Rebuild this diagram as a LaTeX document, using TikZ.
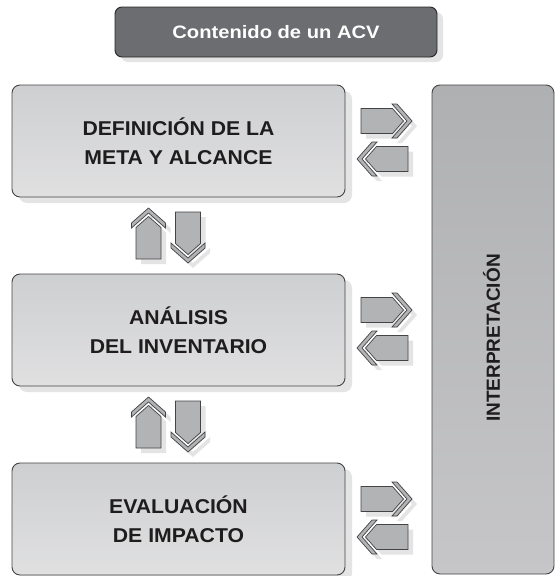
\documentclass[tikz,border=0pt]{standalone}
\usepackage{fontspec}
\setmainfont{Liberation Sans}
\usetikzlibrary{shadows}
\definecolor{titlegray}{RGB}{108,109,112}
\definecolor{boxtop}{RGB}{206,207,209}
\definecolor{boxbot}{RGB}{224,224,225}
\definecolor{paneltop}{RGB}{175,176,178}
\definecolor{panelbot}{RGB}{198,198,200}
\definecolor{arrowtop}{RGB}{200,201,203}
\definecolor{arrowfill}{RGB}{178,179,181}
\definecolor{edgec}{RGB}{68,68,70}
\definecolor{shadec}{RGB}{228,228,229}
\definecolor{inkc}{RGB}{30,28,29}

% block arrow pointing along +x, tip at origin
\newcommand\arrband{(-15,-17)--(0,0)--(-15,17)--(-20,17)--(-5,0)--(-20,-17)--cycle}
\newcommand\arrbody{(-8.5,0)--(-19.5,12.5)--(-51,12.5)--(-51,-12.5)--(-19.5,-12.5)--cycle}
\newcommand\blockarrow[3]{%
  \begin{scope}[shift={(#1+5,#2+5)}, rotate=#3]
    \fill[shadec] \arrband; \fill[shadec] \arrbody;
  \end{scope}
  \begin{scope}[shift={(#1,#2)}, rotate=#3]
    \filldraw[arrowpart] \arrband;
    \filldraw[arrowpart] \arrbody;
  \end{scope}}

\begin{document}
\begin{tikzpicture}[x=1pt,y=-1pt,
  arrowpart/.style={fill=arrowfill, draw=edgec, line width=0.7pt, line join=miter},
  stagebox/.style={draw=edgec, line width=0.9pt, rounded corners=8pt,
    top color=boxtop, bottom color=boxbot,
    minimum width=333pt, minimum height=112pt, inner sep=0pt, align=center,
    text=inkc, font=\fontsize{20}{28.5}\selectfont\bfseries,
    drop shadow={shadow xshift=7pt, shadow yshift=-6pt, fill=shadec, opacity=1}},
  titlebox/.style={draw=black!85, line width=0.9pt, rounded corners=7pt, fill=titlegray,
    minimum width=322pt, minimum height=50pt, inner sep=0pt, text=white,
    font=\fontsize{18}{20}\selectfont\bfseries,
    drop shadow={shadow xshift=6pt, shadow yshift=-5pt, fill=shadec, opacity=1}},
  panelbox/.style={draw=edgec, line width=0.9pt, rounded corners=8pt,
    top color=paneltop, bottom color=panelbot,
    minimum width=122pt, minimum height=489pt, inner sep=0pt},
  paneltext/.style={rotate=90, text=inkc, font=\fontsize{19}{22}\selectfont\bfseries, inner sep=0pt}
]
\useasboundingbox (0,0) rectangle (555,576);
\fill[white] (0,0) rectangle (555,576);

\node[titlebox] (title) at (276,32) {\scalebox{1.12}[1]{Contenido de un ACV}};

\node[panelbox] (interp) at (493,329.5) {};
\node[paneltext] (interplabel) at (491.5,338) {INTERPRETACIÓN};

\node[stagebox] (meta) at (178.5,141)
  {\scalebox{1.06}[1]{DEFINICIÓN DE LA}\\\scalebox{1.06}[1]{META Y ALCANCE}};
\node[stagebox] (inv) at (178.5,330)
  {\scalebox{1.06}[1]{ANÁLISIS}\\\scalebox{1.06}[1]{DEL INVENTARIO}};
\node[stagebox] (imp) at (178.5,519)
  {\scalebox{1.06}[1]{EVALUACIÓN}\\\scalebox{1.06}[1]{DE IMPACTO}};

% arrows between stages and interpretation
\foreach \dy in {0,189,378} {
  \blockarrow{412}{121+\dy}{0}
  \blockarrow{357}{159+\dy}{180}
}
% arrows between stages
\foreach \dy in {0,189} {
  \blockarrow{148.5}{208+\dy}{90}
  \blockarrow{188}{263+\dy}{-90}
}
\end{tikzpicture}
\end{document}
